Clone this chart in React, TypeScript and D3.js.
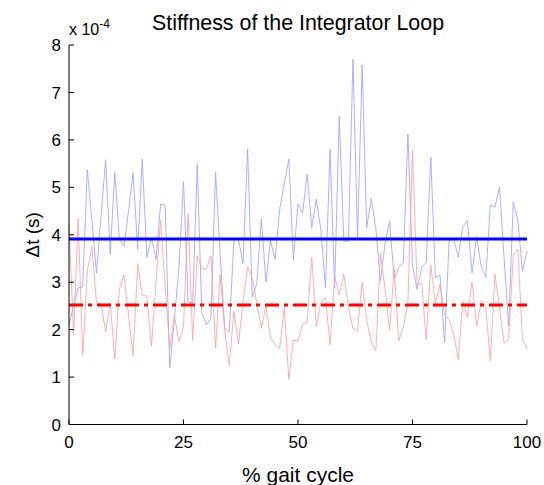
import React from "react";
import * as d3 from "d3";

const blueSeries: number[] = [
  2.1, 2.5, 2.88, 2.9, 5.37, 4.3, 3.19, 4.4, 5.58, 3.59,
  5.31, 3.9, 3.76, 4.5, 5.31, 3.69, 5.59, 3.52, 3.93, 3.48,
  4.65, 4.62, 1.19, 2.2, 3.3, 5.12, 2.59, 2.56, 5.48, 2.35,
  2.1, 2.24, 5.31, 3.6, 2.03, 1.95, 3.89, 3.91, 3.39, 5.81,
  2.69, 2.97, 4.33, 3.0, 3.88, 3.48, 4.54, 5.08, 5.6, 3.47,
  4.65, 4.46, 5.28, 4.15, 4.75, 4.1, 2.88, 5.8, 2.88, 6.5,
  3.86, 3.86, 7.7, 3.9, 7.58, 4.15, 4.77, 4.12, 3.03, 3.8,
  4.29, 3.07, 3.31, 3.42, 6.12, 3.36, 2.85, 3.31, 3.42, 5.63,
  3.1, 3.15, 1.73, 3.88, 3.9, 3.53, 4.17, 4.3, 3.2, 3.96,
  3.33, 3.1, 4.63, 4.58, 5.0, 3.5, 2.07, 4.69, 4.31, 3.23,
  3.66,
];

const redSeries: number[] = [
  4.24, 1.9, 4.34, 1.46, 3.24, 3.75, 2.57, 2.55, 1.95, 2.56,
  1.38, 2.85, 3.15, 2.3, 1.44, 3.39, 2.73, 2.7, 1.65, 3.0,
  4.31, 2.9, 1.61, 2.3, 1.74, 2.05, 4.45, 1.77, 3.56, 3.29,
  3.27, 3.55, 1.61, 3.15, 1.97, 1.25, 2.38, 1.7, 2.6, 3.31,
  3.09, 2.56, 2.03, 2.5, 1.82, 1.69, 1.61, 2.48, 0.95, 1.78,
  1.76, 2.11, 2.15, 3.53, 2.06, 2.58, 2.68, 1.68, 3.13, 2.73,
  3.17, 2.47, 2.03, 1.97, 3.0, 2.2, 1.74, 1.55, 3.62, 2.86,
  1.99, 3.29, 1.76, 2.06, 2.55, 5.78, 2.94, 2.98, 1.79, 3.36,
  2.55, 2.96, 2.31, 2.21, 1.91, 1.37, 2.6, 2.26, 3.0, 2.07,
  2.6, 2.47, 1.34, 3.17, 2.45, 1.71, 1.79, 3.57, 3.69, 1.82,
  1.59,
];

const blueMean = 3.91;
const redMean = 2.52;

const xTicks: number[] = [0, 25, 50, 75, 100];
const yTicks: number[] = [0, 1, 2, 3, 4, 5, 6, 7, 8];

const title = "Stiffness of the Integrator Loop";
const xLabel = "% gait cycle";
const yLabel = "\u0394t (s)";

export default function App() {
  const W = 544;
  const H = 485;
  const left = 69;
  const right = 527;
  const top = 45;
  const bottom = 424.5;
  const font = "Liberation Sans, Arial, sans-serif";

  const x = d3.scaleLinear().domain([0, 100]).range([left, right]);
  const y = d3.scaleLinear().domain([0, 8]).range([bottom, top]);

  const line = d3
    .line<number>()
    .x((_, i) => x(i * (100 / (blueSeries.length - 1))))
    .y((d) => y(d));

  return (
    <svg
      width={W}
      height={H}
      style={{ position: "absolute", left: 0, top: 0, background: "#fff" }}
      fontFamily={font}
    >
      <rect x={0} y={0} width={W} height={H} fill="#fff" />
      <path d={line(blueSeries) || ""} fill="none" stroke="#a0a0ff" strokeWidth={0.85} />
      <path d={line(redSeries) || ""} fill="none" stroke="#ffa0a0" strokeWidth={0.85} />
      <line x1={x(0)} x2={x(100)} y1={y(blueMean)} y2={y(blueMean)} stroke="#0000ff" strokeWidth={3} />
      <line
        x1={x(0)}
        x2={x(100)}
        y1={y(redMean)}
        y2={y(redMean)}
        stroke="#ff0000"
        strokeWidth={3}
        strokeDasharray="14,5,4,5"
      />
      <line x1={left} x2={left} y1={top} y2={bottom} stroke="#000" strokeWidth={1} />
      <line x1={left} x2={right} y1={bottom} y2={bottom} stroke="#000" strokeWidth={1} />
      {yTicks.map((t) => (
        <g key={"y" + t}>
          <line x1={left} x2={left + 5} y1={y(t)} y2={y(t)} stroke="#000" strokeWidth={1} />
          <text x={left - 8} y={y(t)} dy="0.36em" textAnchor="end" fontSize={17} fill="#000">
            {t}
          </text>
        </g>
      ))}
      {xTicks.map((t) => (
        <g key={"x" + t}>
          <line x1={x(t)} x2={x(t)} y1={bottom} y2={bottom - 5} stroke="#000" strokeWidth={1} />
          <text x={x(t)} y={bottom + 23} textAnchor="middle" fontSize={17} fill="#000">
            {t}
          </text>
        </g>
      ))}
      <text x={69} y={35} fontSize={16} fill="#000">
        x 10
        <tspan dy={-7} fontSize={12}>
          -4
        </tspan>
      </text>
      <text x={298} y={30} textAnchor="middle" fontSize={21.4} fill="#000">
        {title}
      </text>
      <text x={298} y={482} textAnchor="middle" fontSize={21} fill="#000">
        {xLabel}
      </text>
      <text
        transform={`translate(39, ${(top + bottom) / 2}) rotate(-90)`}
        textAnchor="middle"
        fontSize={19}
        fill="#000"
      >
        {yLabel}
      </text>
    </svg>
  );
}
